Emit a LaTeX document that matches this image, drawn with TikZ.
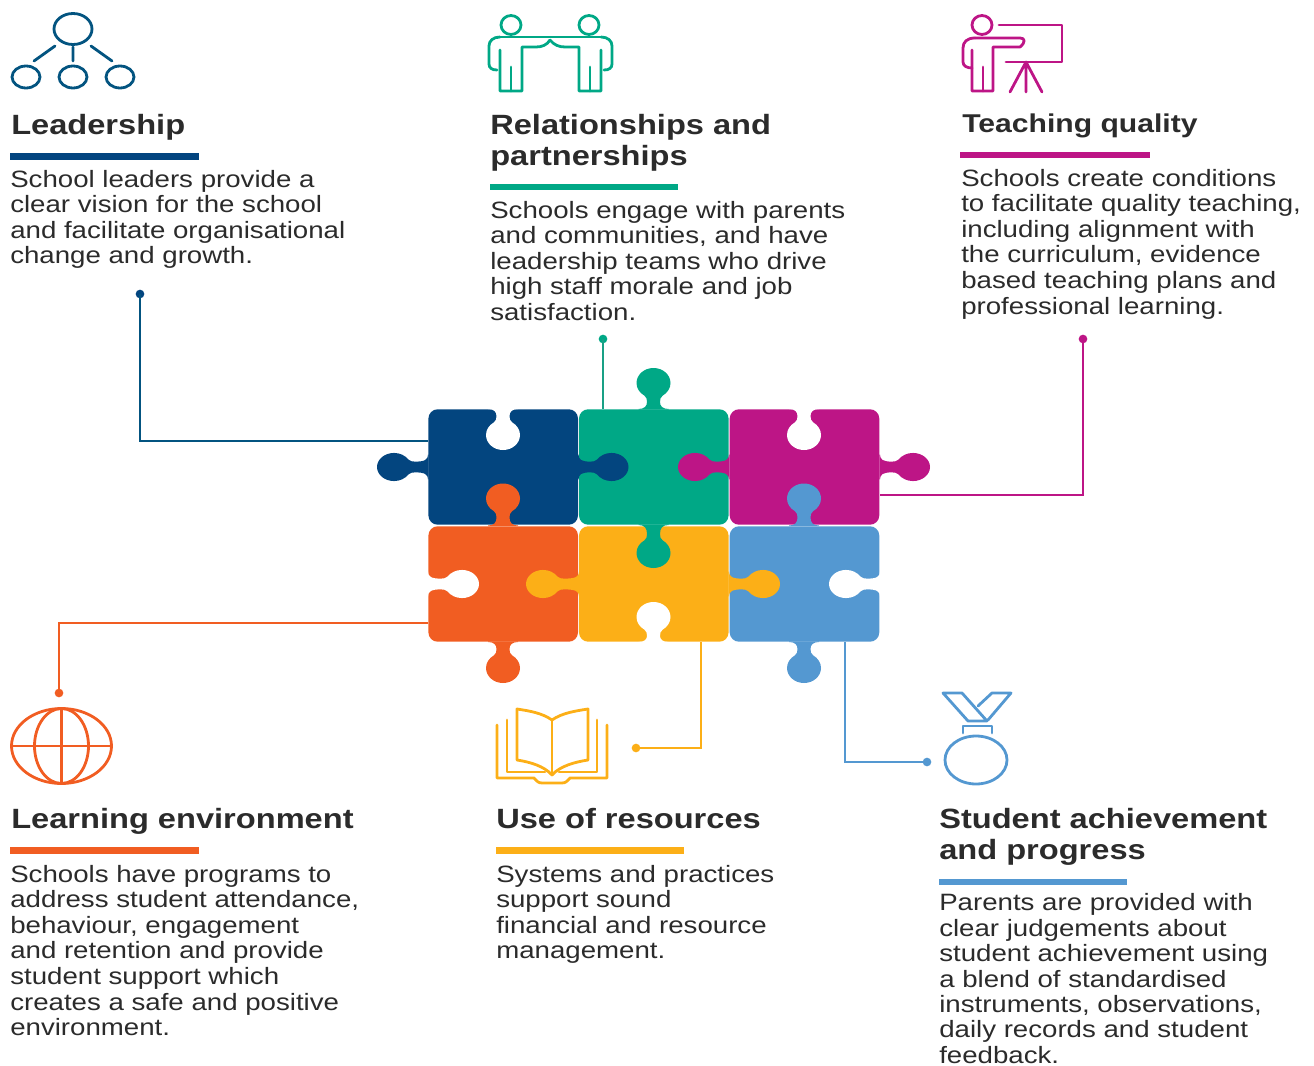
\documentclass[tikz,border=0pt]{standalone}
\usepackage{fontspec}
\setmainfont{Liberation Sans}[FakeStretch=1.17]
\definecolor{cnavy}{HTML}{03457F}
\definecolor{cgreen}{HTML}{00A886}
\definecolor{cmag}{HTML}{BD1586}
\definecolor{corange}{HTML}{F15D22}
\definecolor{cyellow}{HTML}{FCAF17}
\definecolor{cblue}{HTML}{5498D1}
\definecolor{ink}{HTML}{2B2B2B}
\tikzset{
  x=0.75pt,y=-0.75pt,
  piece/.style={rectangle,draw=none,fill=#1,minimum width=112.2pt,minimum height=86.6pt,rounded corners=7pt,inner sep=0pt},
  title/.style={anchor=north west,inner sep=0pt,align=left,text=ink,font=\fontsize{20.9}{23}\selectfont\bfseries},
  body/.style={anchor=north west,inner sep=0pt,align=left,text=ink,font=\fontsize{17.72}{19.15}\selectfont},
  rulebar/.style={fill=#1,draw=none},
  link/.style={draw=#1,line width=1.5pt,line join=miter},
  enddot/.style={circle,fill=#1,draw=none,minimum size=6.5pt,inner sep=0pt},
  icon/.style={draw=#1,line width=2.1pt,fill=none,line join=round,line cap=round},
  tabU/.style={x={(0.75pt,0pt)},y={(0pt,0.75pt)}},
  tabD/.style={x={(0.75pt,0pt)},y={(0pt,-0.75pt)}},
  tabR/.style={x={(0pt,0.62pt)},y={(0.75pt,0pt)}},
  tabL/.style={x={(0pt,0.62pt)},y={(-0.75pt,0pt)}},
}
% #1 direction style, #2 colour, #3 base point, #4 length to knob centre, #5 knob radius along the tab
\newcommand{\knob}[5]{%
  \fill[#2,shift={#3},#1] (-15,-0.6) -- (-15,0) .. controls (-9,0) and (-6.5,3) .. (-6.5,#4-#5-4)
    .. controls (-6.5,#4-#5-1) and (-7,#4-#5+0.5) .. (-9,#4-0.85*#5)
    .. controls (-14,#4-0.65*#5) and (-17,#4-0.35*#5) .. (-17,#4)
    .. controls (-17,#4+0.55*#5) and (-9.4,#4+#5) .. (0,#4+#5)
    .. controls (9.4,#4+#5) and (17,#4+0.55*#5) .. (17,#4)
    .. controls (17,#4-0.35*#5) and (14,#4-0.65*#5) .. (9,#4-0.85*#5)
    .. controls (7,#4-#5+0.5) and (6.5,#4-#5-1) .. (6.5,#4-#5-4)
    .. controls (6.5,3) and (9,0) .. (15,0) -- (15,-0.6) -- cycle;}
\begin{document}
\begin{tikzpicture}
\useasboundingbox (0,0) rectangle (1314,1066);
% connector end points
\coordinate (e1) at (428,441);
\coordinate (e2) at (603,409);
\coordinate (e3) at (880,495);
\coordinate (e4) at (428,623);
\coordinate (e5) at (701,642);
\coordinate (e6) at (845,642);
\node[enddot=cnavy] (d1) at (140,294) {};
\node[enddot=cgreen] (d2) at (603,339) {};
\node[enddot=cmag] (d3) at (1083,339) {};
\node[enddot=corange] (d4) at (59,693) {};
\node[enddot=cyellow] (d5) at (636,748) {};
\node[enddot=cblue] (d6) at (927,762) {};
\draw[link=cnavy!85!cgreen] (d1.center) |- (e1);
\draw[link=cgreen!80!gray] (d2.center) -- (e2);
\draw[link=cmag] (d3.center) |- (e3);
\draw[link=corange] (d4.center) |- (e4);
\draw[link=cyellow] (d5.center) -| (e5);
\draw[link=cblue] (d6.center) -| (e6);
% puzzle
\node[piece=cnavy] (p1) at (503.2,467) {};
\node[piece=cgreen] (p2) at (653.8,467) {};
\node[piece=cmag] (p3) at (804.5,467) {};
\node[piece=corange] (p4) at (503.2,584) {};
\node[piece=cyellow] (p5) at (653.8,584) {};
\node[piece=cblue] (p6) at (804.5,584) {};
\knob{tabU}{cgreen}{(653.5,409)}{26}{15}
\knob{tabU}{corange}{(503,525.5)}{27}{15}
\knob{tabU}{cblue}{(804,525.5)}{27}{15}
\knob{tabD}{cgreen}{(653.5,525)}{28}{15}
\knob{tabD}{corange}{(503,642)}{26}{15}
\knob{tabD}{cblue}{(804,642)}{26}{15}
\knob{tabL}{cnavy}{(428,467)}{34}{17}
\knob{tabR}{cnavy}{(578.5,467)}{33}{17}
\knob{tabL}{cmag}{(729,467)}{34}{17}
\knob{tabR}{cmag}{(880,467)}{33}{17}
\knob{tabL}{cyellow}{(579,584)}{36}{17}
\knob{tabR}{cyellow}{(729,584)}{34}{17}
\knob{tabD}{white}{(503,409)}{26}{15}
\knob{tabD}{white}{(804,409)}{26}{15}
\knob{tabU}{white}{(653.5,642)}{25}{15}
\knob{tabR}{white}{(428,584)}{34}{17}
\knob{tabL}{white}{(880,584)}{34}{17}
% text
\node[title] (t1) at (11,114) {Leadership};
\node[rulebar=cnavy,minimum width=141.8pt,minimum height=5.2pt,inner sep=0pt] (r1) at (104.5,156.5) {};
\node[body] (b1) at (10,170) {School leaders provide a\\clear vision for the school\\and facilitate organisational\\change and growth.};
\node[title] (t2) at (490,114) {Relationships and\\partnerships};
\node[rulebar=cgreen,minimum width=141pt,minimum height=5pt,inner sep=0pt] (r2) at (584,187) {};
\node[body] (b2) at (490,201) {Schools engage with parents\\and communities, and have\\leadership teams who drive\\high staff morale and job\\satisfaction.};
\node[title,font=\fontsize{19.3}{23}\selectfont\bfseries] (t3) at (962,114) {Teaching quality};
\node[rulebar=cmag,minimum width=141.8pt,minimum height=5pt,inner sep=0pt] (r3) at (1055,155) {};
\node[body] (b3) at (961,169) {Schools create conditions\\to facilitate quality teaching,\\including alignment with\\the curriculum, evidence\\based teaching plans and\\professional learning.};
\node[title] (t4) at (11,808) {Learning environment};
\node[rulebar=corange,minimum width=141.8pt,minimum height=5.2pt,inner sep=0pt] (r4) at (104.5,850.5) {};
\node[body] (b4) at (10,865) {Schools have programs to\\address student attendance,\\behaviour, engagement\\and retention and provide\\student support which\\creates a safe and positive\\environment.};
\node[title] (t5) at (496,808) {Use of resources};
\node[rulebar=cyellow,minimum width=141pt,minimum height=5.2pt,inner sep=0pt] (r5) at (590,850.5) {};
\node[body] (b5) at (496,865) {Systems and practices\\support sound\\financial and resource\\management.};
\node[title] (t6) at (939,808) {Student achievement\\and progress};
\node[rulebar=cblue,minimum width=141pt,minimum height=5pt,inner sep=0pt] (r6) at (1033,882) {};
\node[body,font=\fontsize{17.72}{19.05}\selectfont] (b6) at (939,893.5) {Parents are provided with\\clear judgements about\\student achievement using\\a blend of standardised\\instruments, observations,\\daily records and student\\feedback.};
% leadership icon
\draw[icon=cnavy!85!cgreen] (73,29) ellipse [x radius=19,y radius=15.5];
\draw[icon=cnavy!85!cgreen] (26,77) ellipse [x radius=14,y radius=11];
\draw[icon=cnavy!85!cgreen] (73,77) ellipse [x radius=14,y radius=11];
\draw[icon=cnavy!85!cgreen] (120,77) ellipse [x radius=14,y radius=11];
\draw[icon=cnavy!85!cgreen] (55,46) -- (34,61) (73,47) -- (73,61) (91,46) -- (112,61);
% partnership icon
\draw[icon=cgreen] (511,25) ellipse [x radius=10,y radius=9.5];
\draw[icon=cgreen] (589,25) ellipse [x radius=10,y radius=9.5];
\draw[icon=cgreen] (500,37) -- (601,37);
\draw[icon=cgreen] (500,37) .. controls (493,37) and (489,41) .. (489,46) -- (489,64) .. controls (489,68) and (492,70) .. (497,70);
\draw[icon=cgreen] (500,50) -- (500,91) -- (522,91) -- (522,47) -- (536,47) .. controls (542,47) and (547,45) .. (550,40);
\draw[icon=cgreen] (511,67) -- (511,91);
\draw[icon=cgreen] (601,37) .. controls (608,37) and (612,41) .. (612,46) -- (612,64) .. controls (612,68) and (609,70) .. (604,70);
\draw[icon=cgreen] (601,50) -- (601,91) -- (579,91) -- (579,47) -- (565,47) .. controls (559,47) and (554,45) .. (550,40);
\draw[icon=cgreen] (590,67) -- (590,91);
% teaching icon
\draw[icon=cmag] (982,25) ellipse [x radius=10,y radius=9.5];
\draw[icon=cmag] (999,25) -- (1062,25) -- (1062,62) -- (1006,62);
\draw[icon=cmag] (975,38) -- (1020,38) .. controls (1025,38) and (1026,42) .. (1020,47) -- (993,47) -- (993,91) -- (972,91) -- (972,50);
\draw[icon=cmag] (975,38) .. controls (967,38) and (963,42) .. (963,48) -- (963,62) .. controls (963,66) and (967,68) .. (972,68);
\draw[icon=cmag] (983,67) -- (983,91);
\draw[icon=cmag] (1010,92) -- (1026,62) -- (1042,92) (1026,62) -- (1026,92);
% globe icon
\draw[icon=corange] (61.5,746) ellipse [x radius=50,y radius=37.5];
\draw[icon=corange] (61.5,746) ellipse [x radius=27,y radius=37.5];
\draw[icon=corange] (61.5,708.5) -- (61.5,783.5) (11.5,746) -- (111.5,746);
% book icon
\draw[icon=cyellow] (552,720) .. controls (542,713) and (530,711) .. (517,709) -- (517,760) .. controls (530,762) and (544,766) .. (552,775) .. controls (560,766) and (575,762) .. (588,760) -- (588,709) .. controls (575,711) and (562,713) .. (552,720) -- cycle;
\draw[icon=cyellow] (552,720) -- (552,775);
\draw[icon=cyellow] (507,720) -- (507,772) -- (545,772);
\draw[icon=cyellow] (597,720) -- (597,772) -- (559,772);
\draw[icon=cyellow] (497,725) -- (497,778) -- (534,778) .. controls (537,781) and (538,783) .. (542,783) -- (562,783) .. controls (566,783) and (567,781) .. (570,778) -- (607,778) -- (607,725);
% medal icon
\draw[icon=cblue] (943,693) -- (962,693) -- (987,721) -- (968,721) -- cycle;
\draw[icon=cblue] (978,706) -- (992,693) -- (1011,693) -- (988,720);
\draw[icon=cblue] (963,733) -- (963,726) -- (992,726) -- (992,733);
\draw[icon=cblue] (976,760) ellipse [x radius=31,y radius=24];
\end{tikzpicture}
\end{document}
